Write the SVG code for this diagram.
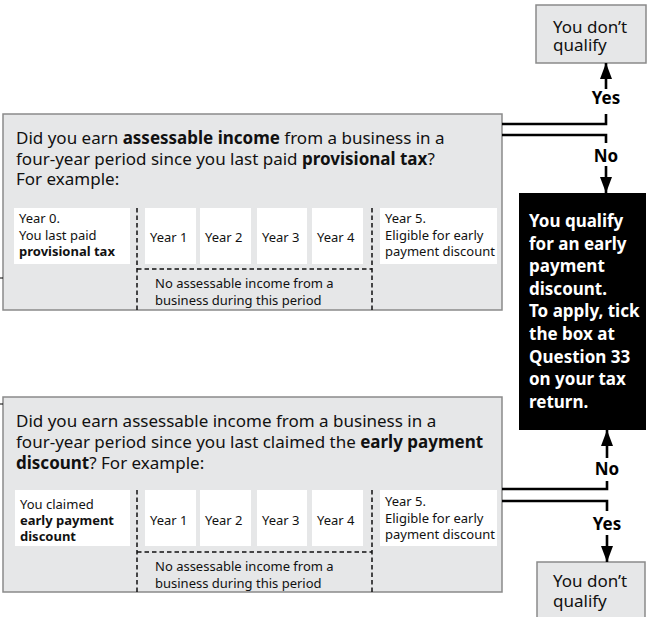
<svg xmlns="http://www.w3.org/2000/svg" width="653" height="617" viewBox="0 0 653 617">
<style>
.q{fill:#e6e7e8;stroke:#8a8a8a;stroke-width:1.5}
.wb{fill:#ffffff}
.t{font-family:"Noto Sans",sans-serif;font-size:17px;fill:#111}
.s{font-family:"Noto Sans",sans-serif;font-size:13px;fill:#111}
.b{font-weight:bold}
.dash{stroke:#111;stroke-width:1.5;stroke-dasharray:4.5,3;fill:none}
.con{stroke:#000;stroke-width:2.6;fill:none}
.lbl{font-family:"Noto Sans",sans-serif;font-size:17px;font-weight:bold;fill:#000;text-anchor:middle}
.w{font-family:"Noto Sans",sans-serif;font-size:17px;font-weight:bold;fill:#fff}
</style>
<defs>
<marker id="ah" markerUnits="userSpaceOnUse" markerWidth="16" markerHeight="12" refX="16" refY="6" orient="auto">
<path d="M0,0 L16,6 L0,12 z" fill="#000"/>
</marker>
</defs>
<rect width="653" height="617" fill="#fff"/>

<g id="q1">
<rect class="q" x="3" y="114" width="499" height="196"/>
<text class="t" x="16" y="144">Did you earn <tspan class="b">assessable income</tspan> from a business in a</text>
<text class="t" x="16" y="165">four-year period since you last paid <tspan class="b">provisional tax</tspan>?</text>
<text class="t" x="16" y="185">For example:</text>
<rect class="wb" x="14" y="208" width="116" height="56"/>
<rect class="wb" x="145" y="208" width="51" height="56"/>
<rect class="wb" x="200" y="208" width="51" height="56"/>
<rect class="wb" x="257" y="208" width="50" height="56"/>
<rect class="wb" x="312" y="208" width="51" height="56"/>
<rect class="wb" x="380" y="208" width="117" height="56"/>
<text class="s" x="19" y="223">Year 0.</text>
<text class="s" x="19" y="240">You last paid</text>
<text class="s b" x="19" y="256">provisional tax</text>
<text class="s" x="150" y="242">Year 1</text>
<text class="s" x="205" y="242">Year 2</text>
<text class="s" x="262" y="242">Year 3</text>
<text class="s" x="317" y="242">Year 4</text>
<text class="s" x="385" y="223">Year 5.</text>
<text class="s" x="385" y="240">Eligible for early</text>
<text class="s" x="385" y="256">payment discount</text>
<path class="dash" d="M137,208 V310 M372,208 V310 M137,269 H372"/>
<text class="s" x="155" y="288">No assessable income from a</text>
<text class="s" x="155" y="305">business during this period</text>
</g>

<g id="q2">
<rect class="q" x="3" y="397" width="499" height="195"/>
<text class="t" x="16" y="427">Did you earn assessable income from a business in a</text>
<text class="t" x="16" y="448">four-year period since you last claimed the <tspan class="b">early payment</tspan></text>
<text class="t" x="16" y="469"><tspan class="b">discount</tspan>?  For example:</text>
<rect class="wb" x="15" y="490" width="115" height="56"/>
<rect class="wb" x="145" y="490" width="51" height="56"/>
<rect class="wb" x="200" y="490" width="51" height="56"/>
<rect class="wb" x="257" y="490" width="50" height="56"/>
<rect class="wb" x="312" y="490" width="51" height="56"/>
<rect class="wb" x="380" y="490" width="117" height="56"/>
<text class="s" x="20" y="509">You claimed</text>
<text class="s b" x="20" y="525">early payment</text>
<text class="s b" x="20" y="541">discount</text>
<text class="s" x="150" y="525">Year 1</text>
<text class="s" x="205" y="525">Year 2</text>
<text class="s" x="262" y="525">Year 3</text>
<text class="s" x="317" y="525">Year 4</text>
<text class="s" x="385" y="506">Year 5.</text>
<text class="s" x="385" y="523">Eligible for early</text>
<text class="s" x="385" y="539">payment discount</text>
<path class="dash" d="M137,490 V592 M372,490 V592 M137,552 H372"/>
<text class="s" x="155" y="571">No assessable income from a</text>
<text class="s" x="155" y="588">business during this period</text>
</g>

<g id="noq1">
<rect class="q" x="536" y="5" width="110" height="58"/>
<text class="t" x="553" y="33">You don’t</text>
<text class="t" x="553" y="51">qualify</text>
</g>

<g id="qualify">
<rect x="519" y="193" width="127" height="237" fill="#000"/>
<text class="w" x="529" y="227">You qualify</text>
<text class="w" x="529" y="249.6">for an early</text>
<text class="w" x="529" y="272.2">payment</text>
<text class="w" x="529" y="294.8">discount.</text>
<text class="w" x="529" y="317.4">To apply, tick</text>
<text class="w" x="529" y="340">the box at</text>
<text class="w" x="529" y="362.6">Question 33</text>
<text class="w" x="529" y="385.2">on your tax</text>
<text class="w" x="529" y="407.8">return.</text>
</g>

<g id="noq2">
<rect class="q" x="537" y="562" width="108" height="70"/>
<text class="t" x="553" y="587">You don’t</text>
<text class="t" x="553" y="607">qualify</text>
</g>

<g id="connectors">
<path class="con" d="M502,124 H606 V114"/>
<path class="con" d="M606,89 V63" marker-end="url(#ah)"/>
<text class="lbl" x="606" y="104">Yes</text>
<path class="con" d="M502,135 H606 V143"/>
<path class="con" d="M606,166 V193" marker-end="url(#ah)"/>
<text class="lbl" x="606" y="162">No</text>
<path class="con" d="M502,489 H607 V481"/>
<path class="con" d="M607,458 V430" marker-end="url(#ah)"/>
<text class="lbl" x="607" y="475">No</text>
<path class="con" d="M502,501 H607 V511"/>
<path class="con" d="M607,535 V562" marker-end="url(#ah)"/>
<text class="lbl" x="607" y="530">Yes</text>
<path d="M0,278 H3 M0,404 H3" stroke="#000" stroke-width="1.2"/>
</g>
</svg>
